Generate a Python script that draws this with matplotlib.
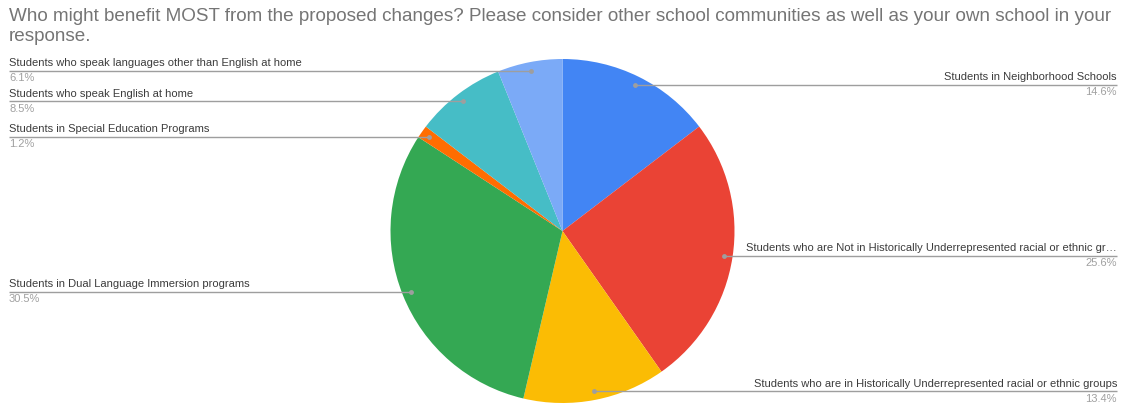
import numpy as np
import matplotlib
matplotlib.use("Agg")
import matplotlib.pyplot as plt

# data
labels = [
    "Students in Neighborhood Schools",
    "Students who are Not in Historically Underrepresented racial or ethnic gr\u2026",
    "Students who are in Historically Underrepresented racial or ethnic groups",
    "Students in Dual Language Immersion programs",
    "Students in Special Education Programs",
    "Students who speak English at home",
    "Students who speak languages other than English at home",
]
values = [14.6, 25.6, 13.4, 30.5, 1.2, 8.5, 6.1]
colors = ["#4285F4", "#EA4335", "#FBBC04", "#34A853", "#FF6D01", "#46BDC6", "#7BAAF7"]

title = ("Who might benefit MOST from the proposed changes? Please consider other school "
         "communities as well as your own school in your\nresponse.")

W, H = 1123, 404
plt.rcParams['font.family'] = ['Liberation Sans', 'DejaVu Sans']

fig = plt.figure(figsize=(W / 100, H / 100), dpi=100)
ax = fig.add_axes([0, 0, 1, 1])
ax.set_xlim(0, W)
ax.set_ylim(0, H)
ax.set_aspect('equal')
ax.axis('off')

cx, cy, r = 562.5, H - 231, 172
wedges, _ = ax.pie(values, colors=colors, startangle=90, counterclock=False,
                   center=(cx, cy), radius=r, wedgeprops=dict(linewidth=0))
ax.set_xlim(0, W)
ax.set_ylim(0, H)

line_col = "#9e9e9e"
for w, lab, v in zip(wedges, labels, values):
    mid = np.deg2rad((w.theta1 + w.theta2) / 2)
    dx = cx + 0.95 * r * np.cos(mid)
    dy = cy + 0.95 * r * np.sin(mid)
    if dx >= cx:
        x_end = 1117
        ha = 'right'
    else:
        x_end = 9
        ha = 'left'
    ax.plot([dx, x_end], [dy, dy], color=line_col, lw=1, solid_capstyle='butt')
    ax.plot(dx, dy, 'o', color=line_col, ms=3.5, mec='none')
    ax.text(x_end, dy + 2.5, lab, ha=ha, va='bottom', fontsize=8.0, color="#3c3c3c")
    ax.text(x_end, dy - 2.5, f"{v:.1f}%", ha=ha, va='top', fontsize=8.0, color="#a0a0a0")

fig.text(9 / W, 1 - 8 / H, title, ha='left', va='top', fontsize=13.6, color="#757575",
         linespacing=1.2)

fig.savefig("out.png", dpi=100)
